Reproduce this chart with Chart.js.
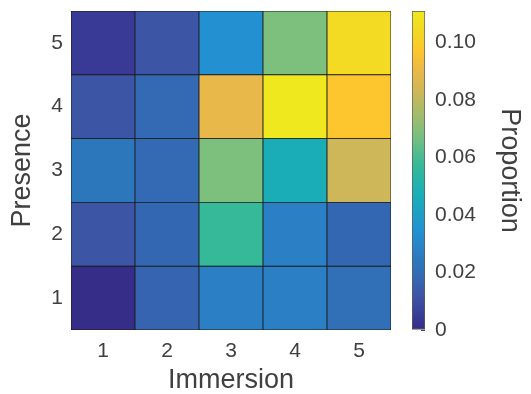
<!DOCTYPE html>
<html>
<head>
<meta charset="utf-8">
<script src="https://cdn.jsdelivr.net/npm/chart.js@4"></script>
<style>
  html, body { margin: 0; padding: 0; background: #fff; }
  #wrap { position: relative; width: 531px; height: 394px; }
  #heat { position: absolute; left: 0; top: 0; }
  #cbar { position: absolute; left: 395px; top: 0; }
</style>
</head>
<body>
<div id="wrap">
  <canvas id="heat" width="531" height="394"></canvas>
  <canvas id="cbar" width="136" height="394"></canvas>
</div>
<script>
// data: proportion of answers, one array per presence level, columns = immersion 1..5
const immersion = ["1", "2", "3", "4", "5"];
const presence = [1, 2, 3, 4, 5];
const presence1 = [0.0005, 0.017, 0.027, 0.027, 0.021];
const presence2 = [0.012, 0.018, 0.057, 0.027, 0.018];
const presence3 = [0.024, 0.019, 0.068, 0.047, 0.083];
const presence4 = [0.012, 0.019, 0.090, 0.111, 0.097];
const presence5 = [0.0045, 0.012, 0.034, 0.068, 0.105];
const rows = [presence1, presence2, presence3, presence4, presence5];
const colorTicks = [0, 0.02, 0.04, 0.06, 0.08, 0.1];
const colorMax = 0.111;

// parula-like colormap, as it looks in the picture
const cmap = [
  [0.0, "#352b85"],
  [0.04, "#383a96"],
  [0.107, "#3d55a5"],
  [0.165, "#3468b3"],
  [0.18, "#336db5"],
  [0.22, "#2b78bd"],
  [0.245, "#2b80c4"],
  [0.31, "#2291d2"],
  [0.42, "#19adb9"],
  [0.51, "#32b99a"],
  [0.61, "#7bc07e"],
  [0.745, "#cdb759"],
  [0.81, "#e8b84b"],
  [0.875, "#fdc62e"],
  [0.94, "#f3d823"],
  [1.0, "#efe81f"],
];

function hex2rgb(h) {
  return [1, 3, 5].map((i) => parseInt(h.substr(i, 2), 16));
}
function colorFor(v) {
  let f = Math.max(0, Math.min(1, v / colorMax));
  for (let i = 1; i < cmap.length; i++) {
    if (f <= cmap[i][0]) {
      const [f0, c0] = cmap[i - 1];
      const [f1, c1] = cmap[i];
      const t = (f - f0) / (f1 - f0);
      const a = hex2rgb(c0), b = hex2rgb(c1);
      const c = a.map((x, k) => Math.round(x + (b[k] - x) * t));
      return "rgb(" + c.join(",") + ")";
    }
  }
  return cmap[cmap.length - 1][1];
}

const textColor = "#404040";
const tickFont = { family: "Liberation Sans", size: 21, lineHeight: 1 };
const titleFont = { family: "Liberation Sans", size: 27, lineHeight: 1 };

// no extra room for half labels at the ends of the vertical axes
function fixV(width) {
  return (s) => { s.width = width; s.paddingTop = 0; s.paddingBottom = 0; };
}

// heatmap: one floating-bar dataset per presence row
const heatSets = rows.map((vals, r) => ({
  data: vals.map(() => [presence[r] - 0.5, presence[r] + 0.5]),
  backgroundColor: vals.map(colorFor),
  borderColor: "#1c1c1c",
  borderWidth: 0.8,
  borderSkipped: false,
  grouped: false,
  barPercentage: 1,
  categoryPercentage: 1,
}));

new Chart(document.getElementById("heat"), {
  type: "bar",
  data: { labels: immersion, datasets: heatSets },
  options: {
    responsive: false,
    animation: false,
    layout: { padding: { left: 0, top: 11, right: 140, bottom: 0 } },
    plugins: { legend: { display: false }, tooltip: { enabled: false } },
    scales: {
      x: {
        z: 1,
        grid: { display: true, offset: false, drawOnChartArea: false, drawTicks: true, tickLength: -3, color: "#444" },
        border: { display: false },
        ticks: { color: textColor, font: tickFont, padding: 14 },
        title: { display: true, text: "Immersion", color: textColor, font: titleFont, padding: { top: 0, bottom: 0 } },
        afterFit: (s) => { s.height = 64; s.paddingLeft = 0; s.paddingRight = 0; },
      },
      y: {
        min: 0.5,
        max: 5.5,
        grid: { display: false, drawTicks: false },
        border: { display: false },
        afterBuildTicks: (axis) => { axis.ticks = presence.map((v) => ({ value: v })); },
        ticks: { color: textColor, font: tickFont, padding: 8 },
        title: { display: true, text: "Presence", color: textColor, font: titleFont, padding: { top: 9, bottom: 0 } },
        afterFit: fixV(71),
      },
    },
  },
});

// colorbar
new Chart(document.getElementById("cbar"), {
  type: "bar",
  data: {
    labels: [""],
    datasets: [{
      data: [[0, colorMax]],
      backgroundColor: (c) => {
        const area = c.chart.chartArea;
        if (!area) return null;
        const g = c.chart.ctx.createLinearGradient(0, area.bottom, 0, area.top);
        cmap.forEach(([f, col]) => g.addColorStop(f, col));
        return g;
      },
      borderColor: "#5a5a5a",
      borderWidth: 1,
      borderSkipped: false,
      barPercentage: 1,
      categoryPercentage: 1,
    }],
  },
  options: {
    responsive: false,
    animation: false,
    layout: { padding: { left: 17, top: 11, right: 0, bottom: 64 } },
    plugins: { legend: { display: false }, tooltip: { enabled: false } },
    scales: {
      x: { display: false },
      y: {
        z: 1,
        position: "right",
        min: 0,
        max: colorMax,
        grid: { display: true, drawOnChartArea: false, drawTicks: true, tickLength: -4, color: "#444" },
        border: { display: false },
        afterBuildTicks: (axis) => { axis.ticks = colorTicks.map((v) => ({ value: v })); },
        ticks: {
          color: textColor,
          font: tickFont,
          padding: 14,
          callback: (v) => (v === 0 ? "0" : v.toFixed(2)),
        },
        title: { display: true, text: "Proportion", color: textColor, font: titleFont, padding: { top: 8, bottom: 0 } },
        afterFit: fixV(106),
      },
    },
  },
});
</script>
</body>
</html>
